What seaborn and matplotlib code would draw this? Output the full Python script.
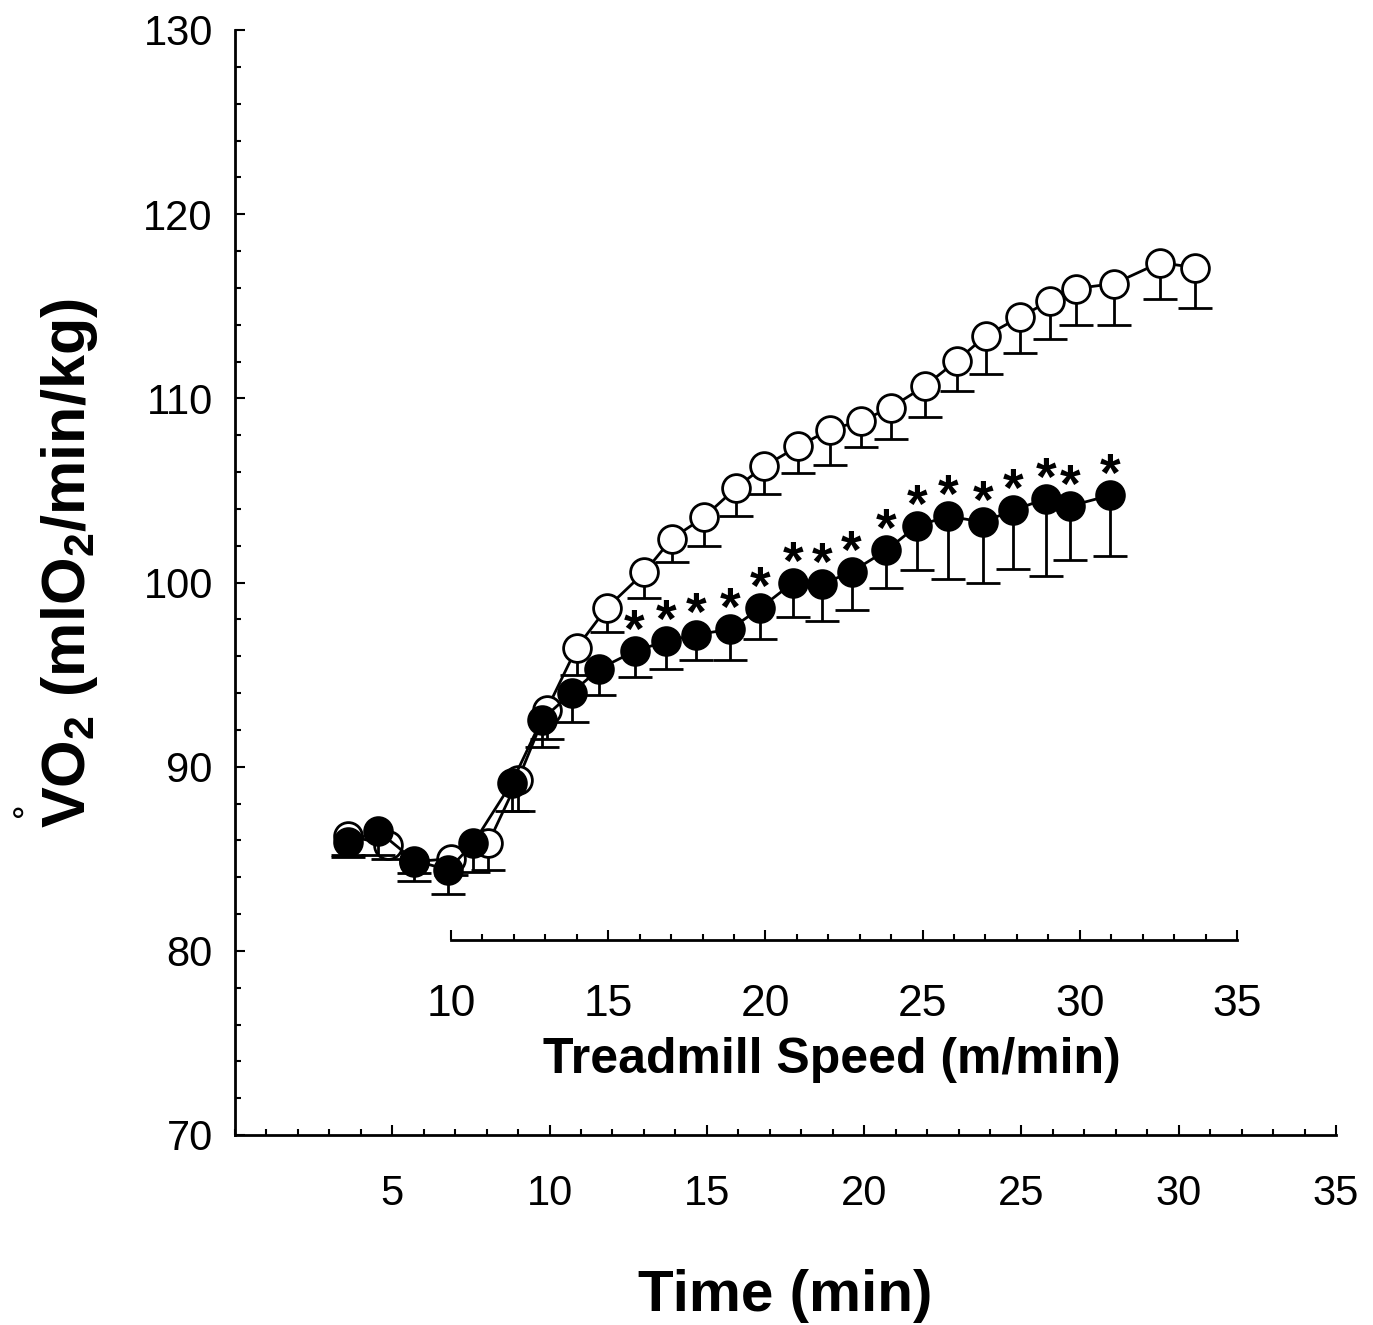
#%%
import numpy as np
import pandas as pd
import seaborn as sns
import matplotlib.pyplot as plt
from matplotlib import font_manager
from matplotlib.ticker import MultipleLocator, FixedLocator

# open circles
t_open = [3.6, 4.87, 5.7, 6.88, 8.05, 9.0, 9.91, 10.86, 11.81, 13.01, 13.88, 14.91, 15.93, 16.81,
          17.91, 18.91, 19.9, 20.85, 21.93, 22.94, 23.86, 24.97, 25.9, 26.72, 27.95, 29.4, 30.53]
vo2_open = [86.25, 85.75, 84.85, 85.0, 85.85, 89.3, 93.1, 96.45, 98.6, 100.55, 102.37, 103.55, 105.14, 106.3,
            107.4, 108.3, 108.77, 109.5, 110.67, 112.03, 113.39, 114.43, 115.29, 115.96, 116.23, 117.37, 117.1]
low_open = [85.2, 85.0, 84.25, 84.1, 84.4, 87.6, 91.5, 94.96, 97.3, 99.16, 101.1, 101.97, 103.6, 104.8,
            105.96, 106.4, 107.35, 107.8, 108.98, 110.4, 111.3, 112.48, 113.2, 113.98, 113.98, 115.38, 114.9]

# filled circles
t_fill = [3.6, 4.56, 5.7, 6.78, 7.58, 8.79, 9.75, 10.7, 11.57, 12.7, 13.69, 14.65, 15.73,
          16.69, 17.73, 18.65, 19.6, 20.71, 21.67, 22.67, 23.79, 24.74, 25.78, 26.54, 27.81]
vo2_fill = [85.9, 86.5, 84.9, 84.4, 85.85, 89.1, 92.55, 94.0, 95.3, 96.27, 96.8, 97.17, 97.45,
            98.6, 99.98, 99.9, 100.58, 101.75, 103.06, 103.6, 103.28, 103.93, 104.54, 104.15, 104.73]
low_fill = [85.1, 85.2, 83.8, 83.1, 84.3, 87.6, 91.05, 92.4, 93.9, 94.85, 95.3, 95.8, 95.8,
            96.93, 98.1, 97.9, 98.5, 99.7, 100.7, 100.2, 100.0, 100.74, 100.34, 101.2, 101.43]
sig_fill = [0, 0, 0, 0, 0, 0, 0, 0, 0, 1, 1, 1, 1, 1, 1, 1, 1, 1, 1, 1, 1, 1, 1, 1, 1]

time_ticks = [5, 10, 15, 20, 25, 30, 35]
speed_ticks = [10, 15, 20, 25, 30, 35]
vo2_ticks = [70, 80, 90, 100, 110, 120, 130]

df_open = pd.DataFrame({'t': t_open, 'vo2': vo2_open, 'low': low_open})
df_fill = pd.DataFrame({'t': t_fill, 'vo2': vo2_fill, 'low': low_fill, 'sig': sig_fill})

sns.set_style('ticks')
names = {f.name for f in font_manager.fontManager.ttflist}
narrow = 'Liberation Sans Narrow' if 'Liberation Sans Narrow' in names else 'Liberation Sans'
plt.rcParams['font.family'] = ['Liberation Sans', 'DejaVu Sans']
plt.rcParams['mathtext.fontset'] = 'custom'
plt.rcParams['mathtext.rm'] = 'Liberation Sans'
plt.rcParams['mathtext.bf'] = 'Liberation Sans:bold'
for k in ['text.color', 'axes.labelcolor', 'xtick.color', 'ytick.color', 'axes.edgecolor']:
    plt.rcParams[k] = 'black'

W, H = 1373, 1325
fig = plt.figure(figsize=(W / 100, H / 100), dpi=100)
ax = fig.add_axes([235 / W, 1 - 1135 / H, 1101 / W, 1105 / H])


def draw_group(d, face, z):
    eb = ax.errorbar(d['t'], d['vo2'], yerr=[d['vo2'] - d['low'], np.zeros(len(d))], fmt='none',
                     ecolor='black', elinewidth=2, capsize=12, capthick=2, zorder=z)
    eb[1][1].set_visible(False)
    sns.lineplot(data=d, x='t', y='vo2', ax=ax, color='black', linewidth=2, marker='o',
                 markersize=20, markerfacecolor=face, markeredgecolor='black', markeredgewidth=2,
                 estimator=None, sort=False, zorder=z + 1)


draw_group(df_open, 'white', 3)
draw_group(df_fill, 'black', 5)

for _, r in df_fill[df_fill['sig'] == 1].iterrows():
    ax.annotate('*', (r['t'], r['vo2']), xytext=(0, 3), textcoords='offset points',
                ha='center', va='baseline', fontsize=38, fontweight='bold')

ax.set_xlim(0, 35)
ax.set_ylim(70, 130)
ax.xaxis.set_major_locator(FixedLocator(time_ticks))
ax.xaxis.set_minor_locator(MultipleLocator(1))
ax.yaxis.set_major_locator(FixedLocator(vo2_ticks))
ax.yaxis.set_minor_locator(MultipleLocator(2))
sns.despine(ax=ax)
for s in ['left', 'bottom']:
    ax.spines[s].set_linewidth(2)
ax.tick_params(which='major', direction='in', length=7, width=1.5)
ax.tick_params(which='minor', direction='in', length=4, width=1.5)
ax.tick_params(axis='y', labelsize=30, pad=16)
ax.tick_params(axis='x', labelsize=30, pad=28)
for lab in ax.get_xticklabels():
    lab.set_family(narrow)

ax.set_xlabel('Time (min)', fontsize=42, fontweight='bold', family=narrow, labelpad=40)
ax.set_ylabel(r'VO$_\mathbf{2}$ (mlO$_\mathbf{2}$/min/kg)', fontsize=44, fontweight='bold')
ax.yaxis.set_label_coords(-0.123, 0.518)
# the dot over V (drawn as a small ring in the original)
fig.text(18 / W, 1 - 834 / H, '°', ha='center', va='baseline', fontsize=26)

# treadmill speed axis
ax2 = fig.add_axes([451 / W, 1 - 940 / H, 786 / W, 0.001])
ax2.patch.set_visible(False)
for s in ['left', 'right', 'top']:
    ax2.spines[s].set_visible(False)
ax2.spines['bottom'].set_linewidth(2)
ax2.set_yticks([])
ax2.set_xlim(10, 35)
ax2.xaxis.set_major_locator(FixedLocator(speed_ticks))
ax2.xaxis.set_minor_locator(MultipleLocator(1))
ax2.tick_params(which='major', direction='in', length=7, width=1.5, labelsize=32, pad=32)
ax2.tick_params(which='minor', direction='in', length=4, width=1.5)
for lab in ax2.get_xticklabels():
    lab.set_family(narrow)
ax2.set_xlabel('Treadmill Speed (m/min)', fontsize=36, fontweight='bold', family=narrow)
ax2.xaxis.label.set_verticalalignment('top')
ax2.xaxis.set_label_coords(832 / W, 1 - 1037 / H, transform=fig.transFigure)

plt.savefig('out.png', dpi=100)
